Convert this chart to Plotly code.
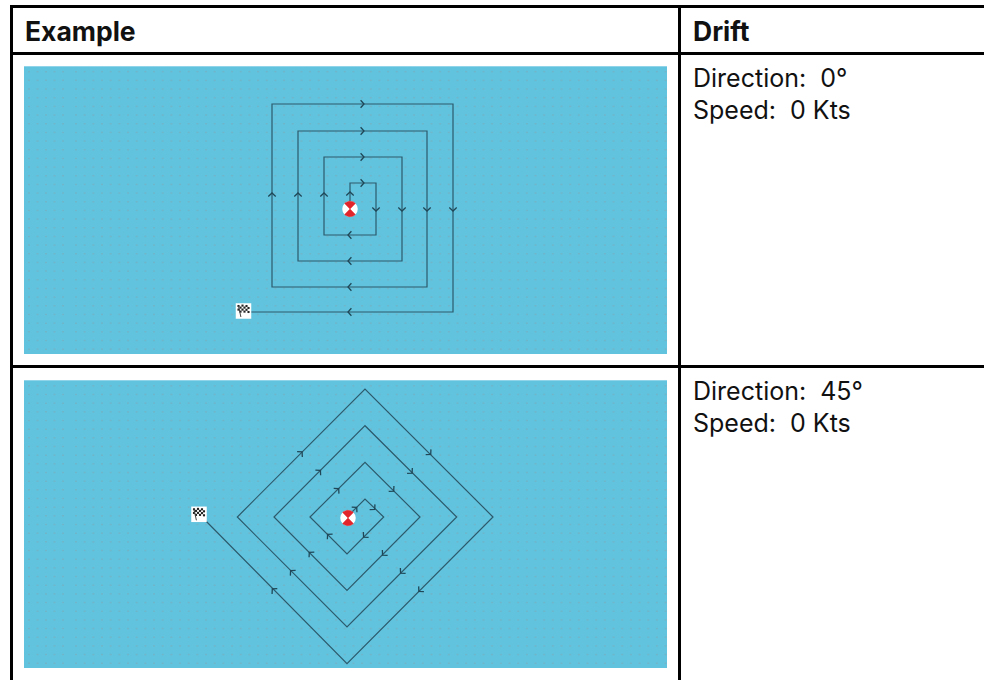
import math
import plotly.graph_objects as go

# ---- table text
HEADERS = ["Example", "Drift"]
ROW_TEXT = [["Direction:  0°", "Speed:  0 Kts"], ["Direction:  45°", "Speed:  0 Kts"]]

# ---- search path 1 (direction 0°)
PATH1_X = [350, 350, 376, 376, 324, 324, 402, 402, 298, 298, 427, 427, 272, 272, 453, 453, 243]
PATH1_Y = [209, 183, 183, 235, 235, 157, 157, 261, 261, 131, 131, 287, 287, 104, 104, 312, 312]
ARROWS1 = [
    (350, 194, 0, -1), (362, 183, 1, 0), (376, 209, 0, 1), (350, 235, -1, 0),
    (324, 195, 0, -1), (362, 157, 1, 0), (402, 209, 0, 1), (350, 261, -1, 0),
    (298, 195, 0, -1), (362, 131, 1, 0), (427, 209, 0, 1), (350, 287, -1, 0),
    (272, 195, 0, -1), (362, 104, 1, 0), (453, 209, 0, 1), (350, 312, -1, 0),
]
# ---- search path 2 (direction 45°)
PATH2_X = [347, 365, 383.7, 347, 310, 365, 420, 347, 274, 365, 456.7, 347, 237.3, 365, 493, 347, 199]
PATH2_Y = [517, 499, 517, 554, 517, 462.3, 517, 590.3, 517, 425.7, 517, 627, 517, 389, 517, 663.7, 514]
ARROWS2 = [
    (355.3, 508.7, 1, -1), (337.3, 490, 1, -1), (319, 471.7, 1, -1), (300.7, 453.3, 1, -1),
    (373.3, 508, 1, 1), (392.3, 489.7, 1, 1), (410.7, 471.7, 1, 1), (429.3, 453, 1, 1),
    (365, 535.7, -1, 1), (384, 553.7, -1, 1), (402, 571.7, -1, 1), (420.3, 590, -1, 1),
    (329, 535.7, -1, -1), (310.7, 553.7, -1, -1), (292, 572, -1, -1), (273.7, 590.3, -1, -1),
]
RING_X = [350, 348]
RING_Y = [209, 518]
FLAG_X = [243.5, 199]
FLAG_Y = [311, 514.3]

LINE = "#2c5a6c"
ARROW = "#1f4757"
WATER = "#62c3de"
BLACK = "#000000"

fig = go.Figure()


def rect(x0, y0, x1, y1, color):
    fig.add_shape(type="rect", x0=x0, y0=y0, x1=x1, y1=y1, fillcolor=color,
                  line_width=0, layer="below", xref="x", yref="y")


# water panels
for top, bottom in [(66, 354), (380, 668)]:
    rect(24, top, 667, bottom, WATER)
    rect(24, top, 667, top + 1, "#8fd4e8")

# faint dot texture, drawn as one comb of short dashes per row
dot_cols = [29, 37.5, 46, 54.5, 63] + [76 + 8.67 * k for k in range(69)]
dot_rows = [71.7 + 8.67 * k for k in range(33)] + [385.8 + 8.67 * k for k in range(33)]
dx, dy = [], []
for r in dot_rows:
    for c in dot_cols:
        dx += [c - 1, c + 1, None]
        dy += [r, r, None]
fig.add_trace(go.Scatter(x=dx, y=dy, mode="lines", connectgaps=False,
                         line=dict(color="#6fb6ca", width=1.5)))

# table rules
rect(10, 5, 984, 8, BLACK)
rect(10, 52, 984, 55, BLACK)
rect(10, 365, 984, 368, BLACK)
rect(10, 5, 13, 680, BLACK)
rect(678, 5, 681, 680, BLACK)

# paths
for xs, ys in [(PATH1_X, PATH1_Y), (PATH2_X, PATH2_Y)]:
    fig.add_trace(go.Scatter(x=xs, y=ys, mode="lines", line=dict(color=LINE, width=1.2)))


def chevrons(arrows):
    xs, ys = [], []
    for x, y, ux, uy in arrows:
        n = (ux * ux + uy * uy) ** 0.5
        ux, uy = ux / n, uy / n
        px, py = -uy, ux
        tip = (x + ux * 2, y + uy * 2)
        xs += [tip[0] - ux * 3.4 + px * 3.7, tip[0], tip[0] - ux * 3.4 - px * 3.7, None]
        ys += [tip[1] - uy * 3.4 + py * 3.7, tip[1], tip[1] - uy * 3.4 - py * 3.7, None]
    return xs, ys


for arrows in (ARROWS1, ARROWS2):
    cx, cy = chevrons(arrows)
    fig.add_trace(go.Scatter(x=cx, y=cy, mode="lines", line=dict(color=ARROW, width=1.3)))

# life rings
fig.add_trace(go.Scatter(x=RING_X, y=RING_Y, mode="markers",
                         marker=dict(symbol="circle", size=15.5, color="#ffffff", line_width=0)))
for X, Y in zip(RING_X, RING_Y):
    wx, wy = [], []
    for sign in (-1, 1):
        wx.append(X)
        wy.append(Y)
        for a in range(-44, 45, 8):
            wx.append(X + 7.7 * math.sin(math.radians(a)))
            wy.append(Y + sign * 7.7 * math.cos(math.radians(a)))
        wx.append(X)
        wy.append(Y)
        wx.append(None)
        wy.append(None)
    fig.add_trace(go.Scatter(x=wx, y=wy, mode="lines", fill="toself", fillcolor="#e1252b",
                             line=dict(color="#e1252b", width=0.5)))

# finish flags
fig.add_trace(go.Scatter(x=FLAG_X, y=FLAG_Y, mode="markers",
                         marker=dict(symbol="square", size=15.5, color="#ffffff", line_width=0)))
CHECK = [(-5, -5), (-1, -5.4), (3, -5), (-3, -3.4), (1, -3.4), (5, -3), (-5, -1.4), (-1, -1.4),
         (3, -1.2), (-3, 0.6), (1, 0.6), (5, 1)]
POLE = [(-5, -5), (-2.6, 6)]
fx, fy, px, py = [], [], [], []
for X, Y in zip(FLAG_X, FLAG_Y):
    for a, b in CHECK:
        fx.append(X + a)
        fy.append(Y + b)
    px += [X + POLE[0][0], X + POLE[1][0], None]
    py += [Y + POLE[0][1], Y + POLE[1][1], None]
fig.add_trace(go.Scatter(x=fx, y=fy, mode="markers",
                         marker=dict(symbol="square", size=2.1, color="#222222", line_width=0)))
fig.add_trace(go.Scatter(x=px, y=py, mode="lines", line=dict(color="#444444", width=1)))

# text
FONT = "Inter"


def label(x, y, text, bold=False):
    fig.add_annotation(x=x, y=y, text=f"<b>{text}</b>" if bold else text, showarrow=False,
                       xanchor="left", yanchor="middle", xref="x", yref="y",
                       xshift=-2, font=dict(family=FONT, size=26.5 if bold else 25, color="#111111"))


label(25, 31, HEADERS[0], True)
label(693, 31, HEADERS[1], True)
label(693, 78, ROW_TEXT[0][0])
label(693, 110, ROW_TEXT[0][1])
label(693, 391, ROW_TEXT[1][0])
label(693, 423, ROW_TEXT[1][1])

fig.update_layout(
    width=984, height=680, margin=dict(l=0, r=0, t=0, b=0, pad=0),
    paper_bgcolor="#ffffff", plot_bgcolor="#ffffff", showlegend=False, hovermode=False,
    xaxis=dict(range=[0, 984], visible=False, fixedrange=True),
    yaxis=dict(range=[680, 0], visible=False, fixedrange=True),
)
fig.write_html("out.html", config={"displayModeBar": False},
               post_script="document.body.style.margin='0';document.body.style.overflow='hidden';")
